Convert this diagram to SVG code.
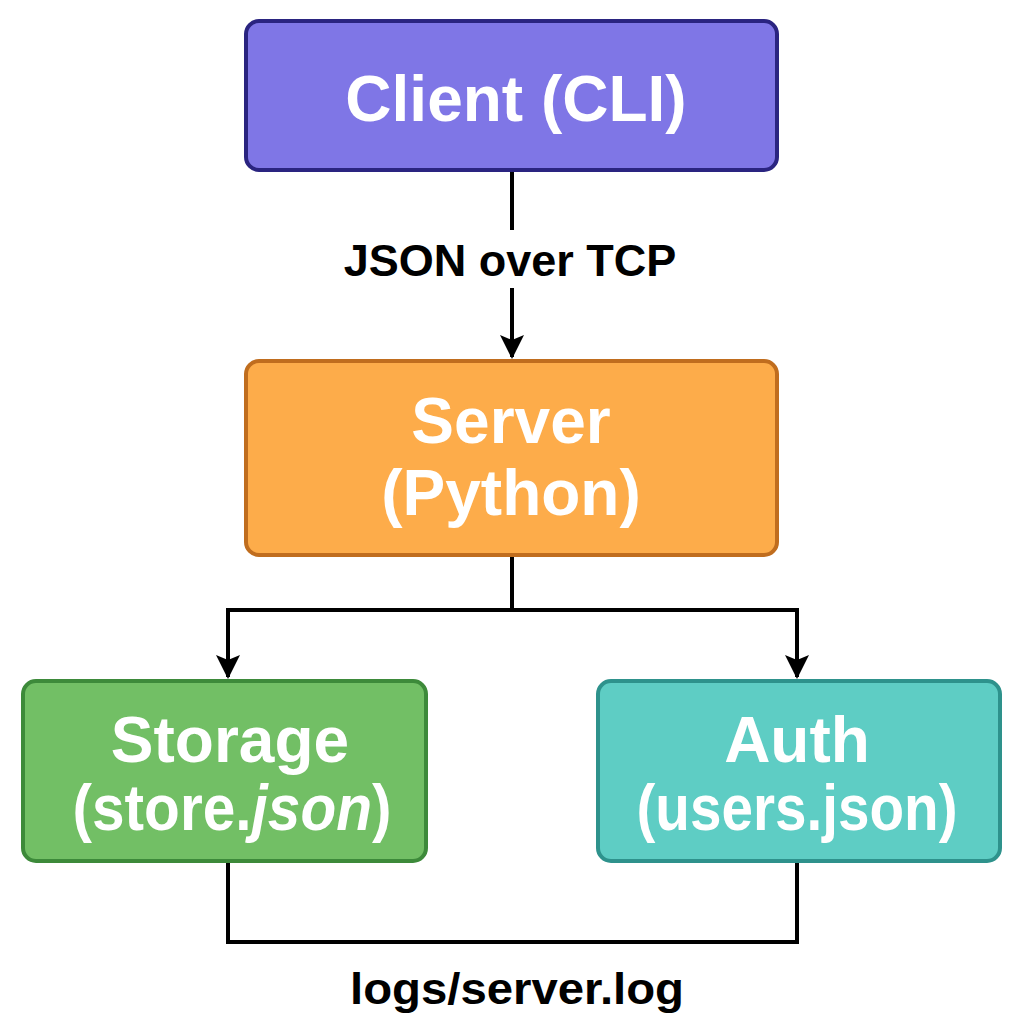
<svg xmlns="http://www.w3.org/2000/svg" width="1024" height="1024" viewBox="0 0 1024 1024">
<defs>
<style>
.node{stroke-width:4}
.nt{font-family:"Liberation Sans",Arial,sans-serif;font-weight:bold;fill:#ffffff;text-anchor:middle;font-size:64px}
.lbl{font-family:"Liberation Sans",Arial,sans-serif;font-weight:bold;fill:#000000;text-anchor:middle;font-size:45px}
.wire{fill:none;stroke:#000000;stroke-width:4}
</style>
<marker id="ah" markerWidth="24" markerHeight="24" refX="22" refY="12" orient="auto" markerUnits="userSpaceOnUse" viewBox="0 0 24 24">
<path d="M0,0 L24,12 L0,24 L5,12 Z" fill="#000000"/>
</marker>
</defs>
<rect width="1024" height="1024" fill="#ffffff"/>
<g id="connectors">
<line class="wire" x1="512" y1="171" x2="512" y2="230"/>
<line class="wire" x1="512" y1="288" x2="512" y2="357" marker-end="url(#ah)"/>
<polyline class="wire" points="512,556 512,610 228,610 228,677" marker-end="url(#ah)"/>
<polyline class="wire" points="512,610 797,610 797,677" marker-end="url(#ah)"/>
<polyline class="wire" points="228,862 228,942 797,942 797,862"/>
<text class="lbl" x="510" y="276">JSON over TCP</text>
<text class="lbl" x="517" y="1004" textLength="334" lengthAdjust="spacingAndGlyphs">logs/server.log</text>
</g>
<g id="client">
<rect class="node" x="246" y="21" width="531" height="149" rx="13" fill="#7f76e6" stroke="#2a2480"/>
<text class="nt" x="516" y="121">Client (CLI)</text>
</g>
<g id="server">
<rect class="node" x="246" y="361" width="531" height="194" rx="13" fill="#fdac4a" stroke="#c06d1e"/>
<text class="nt" x="511" y="443">Server</text>
<text class="nt" x="511" y="515">(Python)</text>
</g>
<g id="storage">
<rect class="node" x="23" y="681" width="403" height="180" rx="13" fill="#72bf65" stroke="#3d8a3a"/>
<text class="nt" x="230" y="762">Storage</text>
<text class="nt" x="232" y="830" font-size="62" textLength="319" lengthAdjust="spacingAndGlyphs">(store.<tspan font-style="italic">json</tspan>)</text>
</g>
<g id="auth">
<rect class="node" x="598" y="681" width="402" height="180" rx="13" fill="#5ecdc4" stroke="#2e928c"/>
<text class="nt" x="797" y="762">Auth</text>
<text class="nt" x="797" y="830" font-size="62" textLength="321" lengthAdjust="spacingAndGlyphs">(users.json)</text>
</g>
</svg>
